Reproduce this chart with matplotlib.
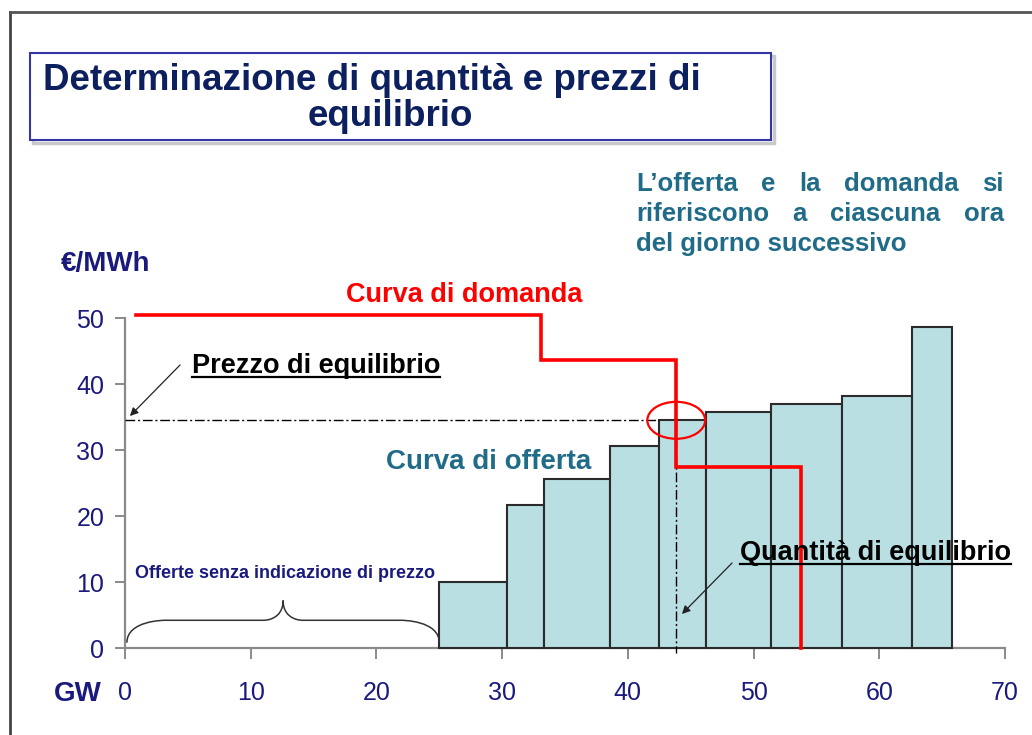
import matplotlib
matplotlib.use("Agg")
import matplotlib.pyplot as plt
from matplotlib.patches import Rectangle, Ellipse, PathPatch
from matplotlib.path import Path
from matplotlib.lines import Line2D
import numpy as np

plt.rcParams['font.family'] = ['Liberation Sans', 'DejaVu Sans']

# ---------------- data ----------------
offer_edges = [25.0, 30.35, 33.3, 38.6, 42.45, 46.2, 51.35, 57.0, 62.6, 65.75]   # GW
offer_prices = [10.0, 21.6, 25.65, 30.6, 34.5, 35.75, 37.0, 38.2, 48.6]          # EUR/MWh
demand_x = [0.9, 33.1, 43.85, 53.8]          # GW breakpoints of demand steps
demand_prices = [50.45, 43.6, 27.5, 0.0]     # price level starting at each breakpoint
eq_quantity = 43.85
eq_price = 34.5
x_ticks = [0, 10, 20, 30, 40, 50, 60, 70]
y_ticks = [0, 10, 20, 30, 40, 50]

W, H = 1032, 735
fig = plt.figure(figsize=(W / 100, H / 100), dpi=100)
fig.patch.set_facecolor('white')

def fx(px):
    return px / W

def fy(py):
    return 1 - py / H

NAVY = '#1a1a7e'
TEAL = '#1f6b88'
BAR_FILL = '#b9dfe3'
RED = '#ff0000'

# page frame
fig.add_artist(Line2D([fx(10), fx(10)], [fy(12), fy(735)], color='#444444', lw=2))
fig.add_artist(Line2D([fx(10), fx(1032)], [fy(12), fy(12)], color='#555555', lw=2))

# title box with shadow
fig.add_artist(Rectangle((fx(33), fy(143)), fx(771) - fx(30), fy(53) - fy(140),
                         transform=fig.transFigure, facecolor='none',
                         edgecolor='#c8c8c8', lw=2.5))
fig.add_artist(Rectangle((fx(30), fy(140)), fx(771) - fx(30), fy(53) - fy(140),
                         transform=fig.transFigure, facecolor='white',
                         edgecolor='#3535a5', lw=1.5))
fig.text(fx(372), fy(80), 'Determinazione di quantità e prezzi di', ha='center',
         va='center', fontsize=26.5, fontweight='bold', color='#0c1f5e')
fig.text(fx(390), fy(116), 'equilibrio', ha='center', va='center',
         fontsize=26.5, fontweight='bold', color='#0c1f5e')

# ---------------- axes ----------------
x0px, x70px = 125, 1005
y0px, y50px = 648, 318
ax = fig.add_axes([fx(x0px), fy(y0px), (x70px - x0px) / W, (y0px - y50px) / H])
ax.set_xlim(0, 70)
ax.set_ylim(0, 50)
ax.patch.set_alpha(0)
for s in ['top', 'right']:
    ax.spines[s].set_visible(False)
for s in ['left', 'bottom']:
    ax.spines[s].set_color('#8a8a8a')
    ax.spines[s].set_linewidth(1.6)
    ax.spines[s].set_zorder(1)
ax.set_xticks(x_ticks)
ax.set_yticks(y_ticks)
ax.tick_params(axis='x', direction='out', length=8, width=1.4, color='#8a8a8a',
               labelsize=18, labelcolor=NAVY, pad=16)
ax.tick_params(axis='y', direction='out', length=7, width=1.4, color='#8a8a8a',
               labelsize=18, labelcolor=NAVY, pad=8)

# supply bars
lefts = np.array(offer_edges[:-1])
widths = np.diff(offer_edges)
ax.bar(lefts, offer_prices, width=widths, align='edge', color=BAR_FILL,
       edgecolor='#2b2b2b', linewidth=1.5, zorder=2, clip_on=False)

# demand step curve
dx, dy = [], []
for i, (xb, pr) in enumerate(zip(demand_x, demand_prices)):
    if i == 0:
        dx.append(xb); dy.append(pr)
    else:
        dx.append(xb); dy.append(demand_prices[i - 1])
        dx.append(xb); dy.append(pr)
ax.plot(dx, dy, color=RED, lw=2.6, zorder=4, clip_on=False, solid_joinstyle='miter')

# equilibrium guides
dash = (0, (7, 2, 1.5, 2))
ax.plot([0, offer_edges[4]], [eq_price, eq_price], color='black', lw=1,
        linestyle=dash, zorder=3, clip_on=False)
ax.plot([eq_quantity, eq_quantity], [eq_price, -0.8], color='black', lw=1,
        linestyle=dash, zorder=3, clip_on=False)
ax.add_patch(Ellipse((eq_quantity, eq_price), 4.6, 5.6, facecolor='none',
                     edgecolor=RED, lw=1.6, zorder=5, clip_on=False))

# brace under the un-priced offers
bx0, bx1, by0, by1, byp = 0.15, 25.0, 0.8, 4.2, 7.2
bm = (bx0 + bx1) / 2
verts = [(bx0, by0), (bx0, by1), (bx0 + 3, by1), (bx0 + 3, by1),
         (bm - 1.5, by1), (bm - 1.5, by1), (bm, by1), (bm, byp),
         (bm, by1), (bm + 1.5, by1), (bm + 1.5, by1),
         (bx1 - 3, by1), (bx1 - 3, by1), (bx1, by1), (bx1, by0)]
codes = [Path.MOVETO, Path.CURVE4, Path.CURVE4, Path.CURVE4,
         Path.LINETO, Path.CURVE4, Path.CURVE4, Path.CURVE4,
         Path.CURVE4, Path.CURVE4, Path.CURVE4,
         Path.LINETO, Path.CURVE4, Path.CURVE4, Path.CURVE4]
ax.add_patch(PathPatch(Path(verts, codes), facecolor='none', edgecolor='#333333',
                       lw=1.1, zorder=3, clip_on=False))

# ---------------- texts ----------------
fig.text(fx(61), fy(264), '€/MWh', ha='left', va='center', fontsize=20,
         fontweight='bold', color=NAVY)
fig.text(fx(54), fy(694), 'GW', ha='left', va='center', fontsize=20,
         fontweight='bold', color=NAVY)
fig.text(fx(464), fy(295), 'Curva di domanda', ha='center', va='center',
         fontsize=19.5, fontweight='bold', color=RED)
fig.text(fx(489), fy(462), 'Curva di offerta', ha='center', va='center',
         fontsize=20, fontweight='bold', color=TEAL)
fig.text(fx(135), fy(574), 'Offerte senza indicazione di prezzo', ha='left',
         va='center', fontsize=13, fontweight='bold', color=NAVY)

t_prezzo = fig.text(fx(192), fy(373), 'Prezzo di equilibrio', ha='left',
                    va='baseline', fontsize=19.5, fontweight='bold', color='black')
t_quant = fig.text(fx(740), fy(560), 'Quantità di equilibrio', ha='left',
                   va='baseline', fontsize=19.5, fontweight='bold', color='black')

# arrows
fig.add_artist(matplotlib.patches.FancyArrowPatch(
    (fx(182), fy(363)), (fx(128), fy(418)), transform=fig.transFigure,
    arrowstyle='-|>', mutation_scale=12, color='#222222', lw=0.9))
fig.add_artist(matplotlib.patches.FancyArrowPatch(
    (fx(734), fy(561)), (fx(680), fy(616)), transform=fig.transFigure,
    arrowstyle='-|>', mutation_scale=12, color='#222222', lw=0.9, zorder=6))

# justified block text
renderer = fig.canvas.get_renderer()
block = ['L\u2019offerta e la domanda si',
         'riferiscono a ciascuna ora',
         'del giorno successivo']
bx_left, bx_right = 636, 1004
for i, line in enumerate(block):
    ypx = 191 + 30 * i
    if i == len(block) - 1:
        fig.text(fx(bx_left), fy(ypx), line, ha='left', va='baseline',
                 fontsize=18.5, fontweight='bold', color=TEAL)
        continue
    words = line.split(' ')
    objs = [fig.text(0, fy(ypx), w, ha='left', va='baseline', fontsize=18.5,
                     fontweight='bold', color=TEAL) for w in words]
    wpx = [o.get_window_extent(renderer).width for o in objs]
    gap = (bx_right - bx_left - sum(wpx)) / (len(words) - 1)
    cur = bx_left
    for o, w in zip(objs, wpx):
        o.set_x(fx(cur))
        cur += w + gap

# underlines
for t in (t_prezzo, t_quant):
    bb = t.get_window_extent(renderer)
    ybase = t.get_position()[1]
    yl = ybase - 3.5 / H
    fig.add_artist(Line2D([bb.x0 / W, bb.x1 / W], [yl, yl], color='black', lw=1.6))

fig.savefig('out.png', dpi=100)
